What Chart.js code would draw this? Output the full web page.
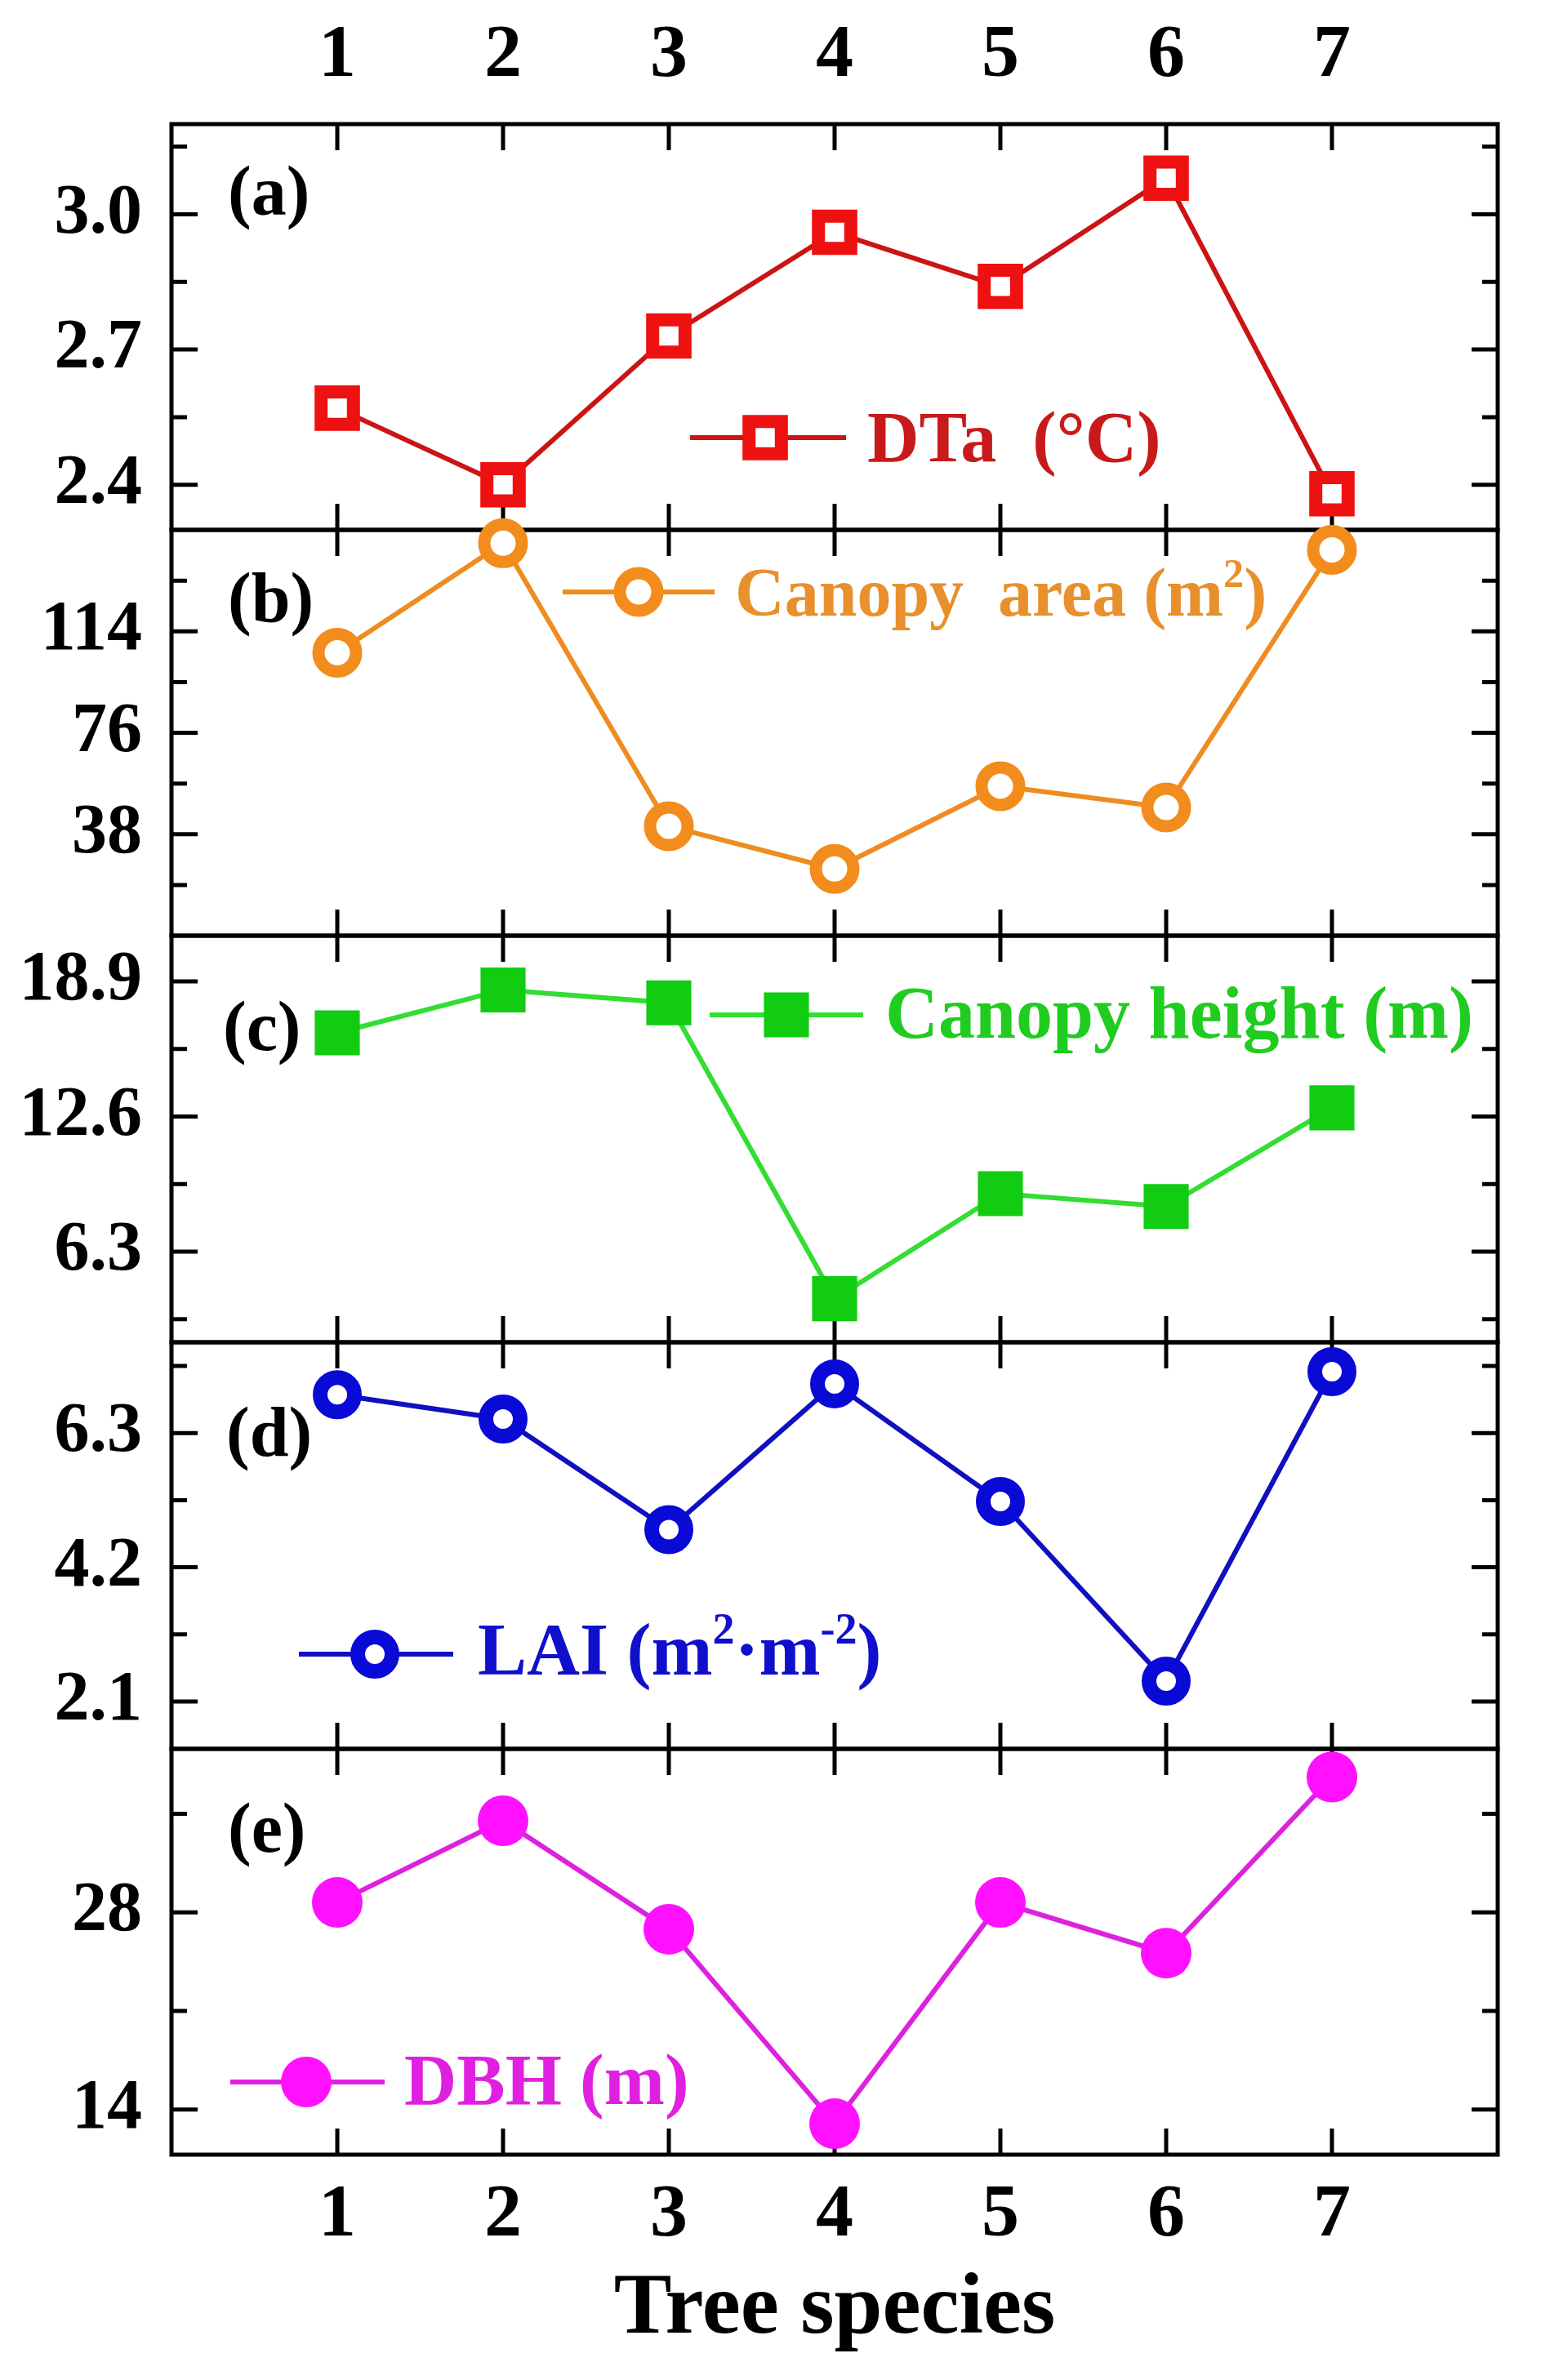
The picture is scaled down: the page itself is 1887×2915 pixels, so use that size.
<!DOCTYPE html>
<html>
<head>
<meta charset="utf-8">
<script src="https://cdn.jsdelivr.net/npm/chart.js@4.4.1/dist/chart.umd.min.js"></script>
<style>
  html, body { margin: 0; padding: 0; background: #fff; }
  #wrap { position: relative; width: 1887px; height: 2915px; overflow: hidden; background: #fff; }
  #wrap canvas { position: absolute; left: 0; }
</style>
</head>
<body>
<div id="wrap"></div>
<script>
// ---- data ----
const species = [1, 2, 3, 4, 5, 6, 7];
const xTickLabels = ['1', '2', '3', '4', '5', '6', '7'];

const dtaValues = [2.57, 2.40, 2.73, 2.96, 2.84, 3.08, 2.38];
const canopyAreaValues = [106, 147, 41, 25, 56, 48, 144.5];
const canopyHeightValues = [16.5, 18.5, 17.9, 4.1, 9.0, 8.4, 13.0];
const laiValues = [6.9, 6.52, 4.79, 7.07, 5.23, 2.42, 7.26];
const dbhValues = [28.7, 34.5, 26.8, 13.0, 28.7, 25.1, 37.6];

const dtaTicks = [2.4, 2.7, 3.0];
const dtaTickLabels = ['2.4', '2.7', '3.0'];
const dtaMinor = [2.55, 2.85, 3.15];
const areaTicks = [38, 76, 114];
const areaTickLabels = ['38', '76', '114'];
const areaMinor = [19, 57, 95, 133];
const heightTicks = [6.3, 12.6, 18.9];
const heightTickLabels = ['6.3', '12.6', '18.9'];
const heightMinor = [3.15, 9.45, 15.75];
const laiTicks = [2.1, 4.2, 6.3];
const laiTickLabels = ['2.1', '4.2', '6.3'];
const laiMinor = [3.15, 5.25, 7.35];
const dbhTicks = [14, 28];
const dbhTickLabels = ['14', '28'];
const dbhMinor = [21, 35];

// ---- layout ----
const PAGE_W = 1887, PAGE_H = 2915;
const PLOT_L = 210, PLOT_R = 1834;
const EDGES = [152, 649, 1146, 1644, 2142, 2639];
const M = 100;
const MAJOR = 32, MINOR = 19;
const FONT = '"Liberation Serif", "Times New Roman", serif';

const panels = [
  { values: dtaValues, min: 2.30, max: 3.20, ticks: dtaTicks, labels: dtaTickLabels, minor: dtaMinor,
    tag: '(a)', tagX: 279, tagY: 263,
    point: 'rect', radius: 28, bw: 16, color: '#ee1111', fill: '#ffffff', line: '#cc1414',
    legend: { x1: 845, x2: 1036, mx: 937, y: 536, tx: 1062, ty: 565, size: 88, color: '#c81a1a',
      parts: [['DTa  (\u00B0C)', 0]] } },
  { values: canopyAreaValues, min: 0, max: 152, ticks: areaTicks, labels: areaTickLabels, minor: areaMinor,
    tag: '(b)', tagX: 279, tagY: 761,
    point: 'circle', radius: 23, bw: 15, color: '#f28c1c', fill: '#ffffff', line: '#ee8c22',
    legend: { x1: 689, x2: 875, mx: 782, y: 725, tx: 900, ty: 754, size: 84, color: '#e8902c',
      parts: [['Canopy  area (m', 0], ['2', 1], [')', 0]] } },
  { values: canopyHeightValues, min: 2.07, max: 21.03, ticks: heightTicks, labels: heightTickLabels, minor: heightMinor,
    tag: '(c)', tagX: 273, tagY: 1286,
    point: 'rect', radius: 39, bw: 0, color: '#11cc11', fill: '#11cc11', line: '#33dd33',
    legend: { x1: 869, x2: 1057, mx: 963, y: 1243, tx: 1084, ty: 1271, size: 90, color: '#1fcc1f',
      parts: [['Canopy height (m)', 0]] } },
  { values: laiValues, min: 1.36, max: 7.72, ticks: laiTicks, labels: laiTickLabels, minor: laiMinor,
    tag: '(d)', tagX: 277, tagY: 1783,
    point: 'circle', radius: 21, bw: 18, color: '#0a0ad6', fill: '#ffffff', line: '#1010c0',
    legend: { x1: 366, x2: 555, mx: 459, y: 2026, tx: 585, ty: 2051, size: 90, color: '#1010cc',
      parts: [['LAI (m', 0], ['2', 1], ['\u00B7m', 0], ['-2', 1], [')', 0]] } },
  { values: dbhValues, min: 10.8, max: 39.6, ticks: dbhTicks, labels: dbhTickLabels, minor: dbhMinor,
    tag: '(e)', tagX: 279, tagY: 2268,
    point: 'circle', radius: 31, bw: 0, color: '#ff10ff', fill: '#ff10ff', line: '#dd22dd',
    legend: { x1: 282, x2: 471, mx: 375, y: 2550, tx: 495, ty: 2577, size: 89, color: '#e020e0',
      parts: [['DBH (m)', 0]] } }
];

function drawMarker(ctx, p, x, y) {
  ctx.save();
  ctx.fillStyle = p.fill;
  ctx.strokeStyle = p.color;
  ctx.lineWidth = p.bw;
  ctx.beginPath();
  if (p.point === 'rect') {
    const s = Math.SQRT1_2 * p.radius;
    ctx.rect(x - s, y - s, 2 * s, 2 * s);
  } else {
    ctx.arc(x, y, p.radius, 0, Math.PI * 2);
  }
  ctx.fill();
  if (p.bw > 0) ctx.stroke();
  ctx.restore();
}

function drawRich(ctx, parts, x, y, size) {
  let cx = x;
  parts.forEach(([t, sup]) => {
    const fs = sup ? size * 0.6 : size;
    ctx.font = 'bold ' + fs + 'px ' + FONT;
    ctx.fillText(t, cx, sup ? y - size * 0.42 : y);
    cx += ctx.measureText(t).width;
  });
}

const panelDeco = {
  id: 'panelDeco',
  beforeDatasetsDraw(chart, args, o) {
    const { ctx, chartArea: a } = chart;
    const x = chart.scales.x, y = chart.scales.y;
    const p = o.panel;
    ctx.save();
    ctx.strokeStyle = '#000';
    ctx.lineWidth = 5;
    ctx.strokeRect(a.left, a.top, a.right - a.left, a.bottom - a.top);
    ctx.beginPath();
    species.forEach(v => {
      const px = x.getPixelForValue(v);
      ctx.moveTo(px, a.top); ctx.lineTo(px, a.top + MAJOR);
      ctx.moveTo(px, a.bottom); ctx.lineTo(px, a.bottom - MAJOR);
    });
    p.ticks.forEach(v => {
      const py = y.getPixelForValue(v);
      ctx.moveTo(a.left, py); ctx.lineTo(a.left + MAJOR, py);
      ctx.moveTo(a.right, py); ctx.lineTo(a.right - MAJOR, py);
    });
    p.minor.forEach(v => {
      const py = y.getPixelForValue(v);
      ctx.moveTo(a.left, py); ctx.lineTo(a.left + MINOR, py);
      ctx.moveTo(a.right, py); ctx.lineTo(a.right - MINOR, py);
    });
    ctx.stroke();

    // panel tag
    ctx.fillStyle = '#000';
    ctx.textAlign = 'left';
    ctx.textBaseline = 'alphabetic';
    ctx.font = 'bold 86px ' + FONT;
    ctx.fillText(p.tag, p.tagX, p.tagY - o.top);

    // legend entry
    const L = p.legend;
    ctx.strokeStyle = p.line;
    ctx.lineWidth = 6;
    ctx.beginPath();
    ctx.moveTo(L.x1, L.y - o.top);
    ctx.lineTo(L.x2, L.y - o.top);
    ctx.stroke();
    drawMarker(ctx, p, L.mx, L.y - o.top);
    ctx.fillStyle = L.color;
    drawRich(ctx, L.parts, L.tx, L.ty - o.top, L.size);
    ctx.restore();
  }
};

const wrap = document.getElementById('wrap');

panels.forEach((p, i) => {
  const first = i === 0, last = i === panels.length - 1;
  const top = first ? 0 : EDGES[i] - M;
  const bottom = last ? PAGE_H : EDGES[i + 1] + M;
  const h = bottom - top;
  const cv = document.createElement('canvas');
  cv.width = PAGE_W; cv.height = h;
  cv.style.top = top + 'px';
  cv.style.width = PAGE_W + 'px';
  cv.style.height = h + 'px';
  wrap.appendChild(cv);

  new Chart(cv.getContext('2d'), {
    type: 'line',
    data: {
      datasets: [{
        data: species.map((s, k) => ({ x: s, y: p.values[k] })),
        borderColor: p.line,
        borderWidth: 6,
        tension: 0,
        clip: false,
        pointStyle: p.point,
        pointRadius: p.radius,
        pointHoverRadius: p.radius,
        pointBorderWidth: p.bw,
        pointBorderColor: p.color,
        pointBackgroundColor: p.fill
      }]
    },
    options: {
      responsive: false,
      animation: false,
      devicePixelRatio: 1,
      events: [],
      layout: { padding: { left: 0, right: PAGE_W - PLOT_R, top: first ? 0 : M, bottom: last ? 0 : M } },
      plugins: {
        legend: { display: false },
        tooltip: { enabled: false },
        panelDeco: { panel: p, top: top }
      },
      scales: {
        x: {
          type: 'linear',
          min: 0, max: 8,
          position: first ? 'top' : 'bottom',
          display: first || last,
          grid: { display: false, drawTicks: false },
          border: { display: false },
          afterBuildTicks: s => { s.ticks = species.map(v => ({ value: v })); },
          afterFit: s => { s.height = first ? EDGES[0] : (last ? PAGE_H - EDGES[5] : 0); },
          ticks: {
            callback: (v, k) => xTickLabels[k],
            font: { family: FONT, size: 92, weight: 'bold' },
            color: '#000',
            padding: first ? 28 : 20,
            maxRotation: 0,
            autoSkip: false
          },
          title: {
            display: last,
            text: 'Tree species',
            font: { family: FONT, size: 106, weight: 'bold' },
            color: '#000',
            padding: { top: 0, bottom: 22 }
          }
        },
        y: {
          type: 'linear',
          min: p.min, max: p.max,
          position: 'left',
          grid: { display: false, drawTicks: false },
          border: { display: false },
          afterBuildTicks: s => { s.ticks = p.ticks.map(v => ({ value: v })); },
          afterFit: s => { s.width = PLOT_L; },
          ticks: {
            callback: (v, k) => p.labels[k],
            font: { family: FONT, size: 86, weight: 'bold' },
            color: '#000',
            padding: 36,
            autoSkip: false
          }
        }
      }
    },
    plugins: [panelDeco]
  });
});
</script>
</body>
</html>
